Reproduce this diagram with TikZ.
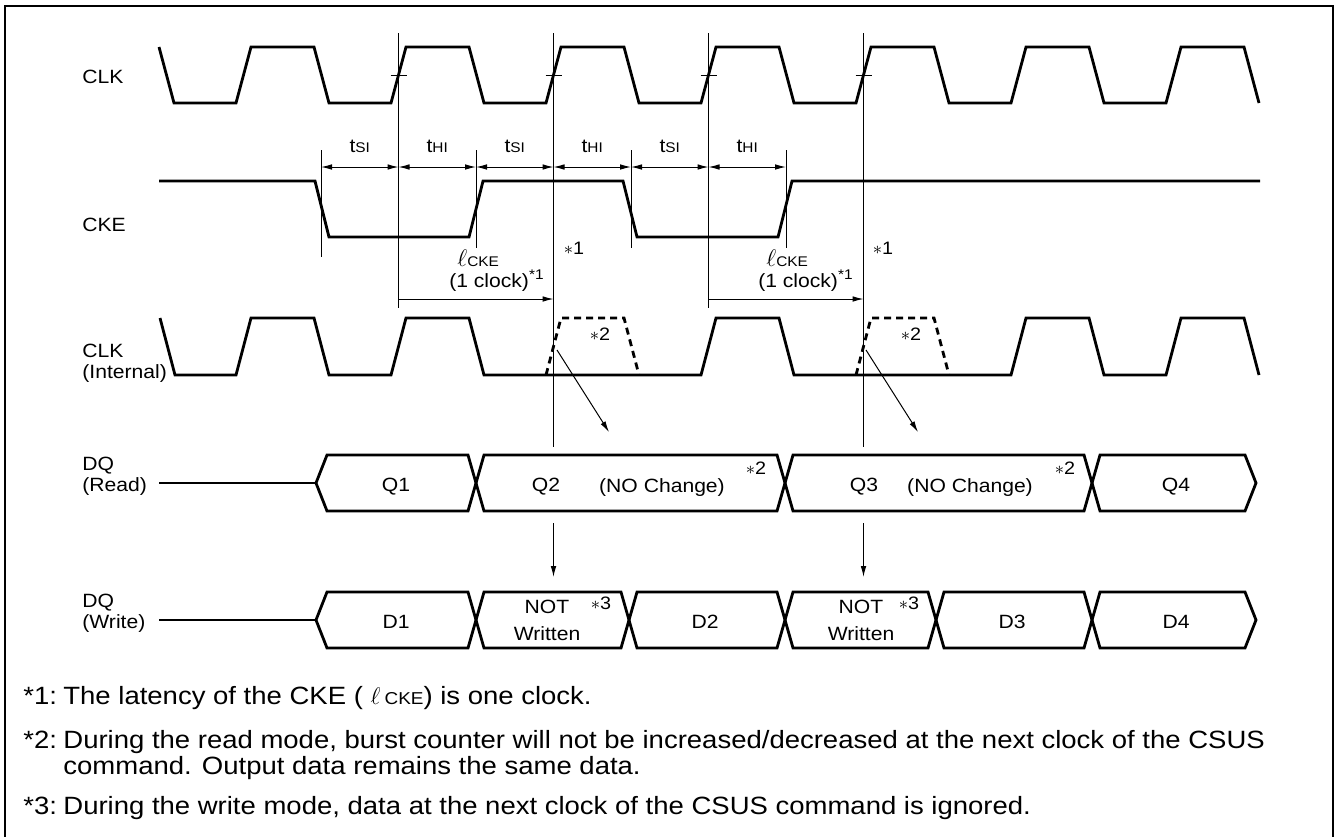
\documentclass[tikz,border=0pt]{standalone}
\usepackage{fontspec}
\setmainfont[FakeStretch=1.1]{Liberation Sans}
\usetikzlibrary{arrows.meta}
\newcommand\fs{\fontsize{9.6}{11.5}\selectfont}
\newcommand\fc{\fontsize{9.6}{11.5}\selectfont}
\newcommand\fn{\fontsize{12.5}{15}\selectfont}
\newcommand\sm[1]{{\fontsize{7}{8}\selectfont #1}}
\newcommand\smm[1]{{\fontsize{8.6}{10}\selectfont #1}}
\newcommand\stn[1]{{\fontsize{9}{9}\selectfont$\ast$#1}}
\begin{document}
\begin{tikzpicture}[x=0.5pt,y=-0.5pt,
  wave/.style={line width=1.4pt},
  dashwave/.style={line width=1.4pt,dash pattern=on 3.5pt off 2.5pt},
  thin/.style={line width=0.5pt},
  tipend/.style={thin,-{Latex[length=5.5pt,width=2.8pt]}},
  dimarr/.style={thin,{Latex[length=5.5pt,width=2.8pt]}-{Latex[length=5.5pt,width=2.8pt]}},
  lbl/.style={anchor=base west,inner sep=0pt,font=\fs},
  txt/.style={anchor=base,inner sep=0pt,font=\fc},
  note/.style={anchor=base west,inner sep=0pt,font=\fn},
  star/.style={inner sep=0pt}]
\useasboundingbox (0,0) rectangle (1336,836);
\clip (0,0) rectangle (1336,836);
% frame
\draw[line width=1.4pt] (5,860) -- (5,6) -- (1333,6) -- (1333,860);

% signal names
\node[lbl] (lclk) at (82,83) {CLK};
\node[lbl] (lcke) at (82,231) {CKE};
\node[lbl] (lclki) at (82,357) {CLK};
\node[lbl] (lclki2) at (82,378) {(Internal)};
\node[lbl] (ldqr) at (82,470) {DQ};
\node[lbl] (ldqr2) at (82,491) {(Read)};
\node[lbl] (ldqw) at (82,607) {DQ};
\node[lbl] (ldqw2) at (82,628) {(Write)};

% reference vertical lines
\draw[thin] (398.5,33) -- (398.5,308);
\draw[thin] (553.5,33) -- (553.5,447);
\draw[thin] (708.5,33) -- (708.5,308);
\draw[thin] (863.5,33) -- (863.5,447);
\foreach \x in {398.5,553.5,708.5,863.5} \draw[thin] (\x-8,75) -- (\x+8,75);
% CKE markers
\draw[thin] (321,150) -- (321,257);
\foreach \x in {476,631,786} \draw[thin] (\x,150) -- (\x,248);

% CLK
\draw[wave] (159,47) -- (174,103)
  foreach \r in {236,391,546,701,856,1011,1166} { -- (\r,103) -- (\r+15,47) -- (\r+78,47) -- (\r+93,103) };

% CKE
\draw[wave] (159,181) -- (315,181) -- (329,237) -- (469,237) -- (483,181) -- (623,181) -- (637,237) -- (778,237) -- (792,181) -- (1260,181);

% timing dimensions
\foreach \a/\b/\t [count=\i] in {321/398.5/t\sm{SI}, 398.5/476/t\sm{HI}, 476/553.5/t\sm{SI}, 553.5/631/t\sm{HI}, 631/708.5/t\sm{SI}, 708.5/786/t\sm{HI}} {
  \coordinate (da\i) at (\a,167);
  \coordinate (db\i) at (\b,167);
  \draw[dimarr] (da\i) -- (db\i);
  \node[txt] (dl\i) at ({(\a+\b)/2},152) {\t};
}

% latency arrows
\coordinate (la1) at (398.5,299); \coordinate (lb1) at (553.5,299);
\coordinate (la2) at (708.5,299); \coordinate (lb2) at (863.5,299);
\draw[tipend] (la1) -- (lb1);
\draw[tipend] (la2) -- (lb2);
\node[inner sep=0pt,anchor=base west] (lc1) at (457,266) {\fontsize{12}{12}\selectfont$\ell$\sm{CKE}};
\node[inner sep=0pt,font=\fc,anchor=base east] (lk1) at (544,287) {(1 clock)\raisebox{4pt}{\sm{*1}}};
\node[inner sep=0pt,anchor=base west] (lc2) at (766,266) {\fontsize{12}{12}\selectfont$\ell$\sm{CKE}};
\node[inner sep=0pt,font=\fc,anchor=base east] (lk2) at (853,287) {(1 clock)\raisebox{4pt}{\sm{*1}}};
\node[star] (s11) at (574,248) {\stn{1}};
\node[star] (s12) at (883,248) {\stn{1}};

% CLK internal
\draw[wave] (160,318) -- (175,375)
  foreach \r in {236,391} { -- (\r,375) -- (\r+15,318) -- (\r+78,318) -- (\r+93,375) }
  -- (701,375) -- (716,318) -- (779,318) -- (794,375)
  foreach \r in {1011,1166} { -- (\r,375) -- (\r+15,318) -- (\r+78,318) -- (\r+93,375) };
\draw[dashwave] (546,375) -- (561,318) -- (624,318) -- (639,375);
\draw[dashwave] (856,375) -- (871,318) -- (934,318) -- (949,375);
\node[star] (s21) at (600,334) {\stn{2}};
\node[star] (s22) at (911,334) {\stn{2}};
\coordinate (ga1) at (557,350); \coordinate (gb1) at (609,432);
\coordinate (ga2) at (866,350); \coordinate (gb2) at (918,432);
\draw[tipend] (ga1) -- (gb1);
\draw[tipend] (ga2) -- (gb2);

% DQ read
\draw[wave] (159,483) -- (316,483);
\foreach \a/\b/\ha/\hb in {316/476/11/8, 476/785/8/8, 785/1092/8/8, 1092/1256/8/11}
  \draw[wave,line join=miter] (\a,483) -- (\a+\ha,455) -- (\b-\hb,455) -- (\b,483) -- (\b-\hb,511) -- (\a+\ha,511) -- cycle;
\node[txt] (q1) at (396,491) {Q1};
\node[txt] (q2) at (546,491) {Q2};
\node[txt] (nc1) at (662,492) {(NO Change)};
\node[star] (s23) at (756,468) {\stn{2}};
\node[txt] (q3) at (864,491) {Q3};
\node[txt] (nc2) at (970,492) {(NO Change)};
\node[star] (s24) at (1065,468) {\stn{2}};
\node[txt] (q4) at (1176,491) {Q4};

% arrows read -> write
\coordinate (ra1) at (553.5,523); \coordinate (rb1) at (553.5,577);
\coordinate (ra2) at (863.5,523); \coordinate (rb2) at (863.5,577);
\draw[tipend] (ra1) -- (rb1);
\draw[tipend] (ra2) -- (rb2);

% DQ write
\draw[wave] (159,620) -- (316,620);
\foreach \a/\b/\ha/\hb in {316/476/11/8, 476/629/8/8, 629/785/8/8, 785/936/8/8, 936/1092/8/8, 1092/1256/8/11}
  \draw[wave,line join=miter] (\a,620) -- (\a+\ha,592) -- (\b-\hb,592) -- (\b,620) -- (\b-\hb,648) -- (\a+\ha,648) -- cycle;
\node[txt] (d1) at (396,628) {D1};
\node[txt] (nw1) at (547,613) {NOT};
\node[txt] (nw1b) at (547,640) {Written};
\node[star] (s31) at (601,603) {\stn{3}};
\node[txt] (d2) at (705,628) {D2};
\node[txt] (nw2) at (861,613) {NOT};
\node[txt] (nw2b) at (861,640) {Written};
\node[star] (s32) at (909,603) {\stn{3}};
\node[txt] (d3) at (1012,628) {D3};
\node[txt] (d4) at (1176,628) {D4};

% footnotes
\node[note] (f1) at (23,704) {*1:};
\node[note] (f1t) at (63,704) {The latency of the CKE ( $\ell$\,\smm{CKE}) is one clock.};
\node[note] (f2) at (23,748) {*2:};
\node[note] (f2t) at (63,748) {During the read mode, burst counter will not be increased/decreased at the next clock of the CSUS};
\node[note] (f2u) at (63,774) {command. Output data remains the same data.};
\node[note] (f3) at (23,814) {*3:};
\node[note] (f3t) at (63,814) {During the write mode, data at the next clock of the CSUS command is ignored.};
\end{tikzpicture}
\end{document}
